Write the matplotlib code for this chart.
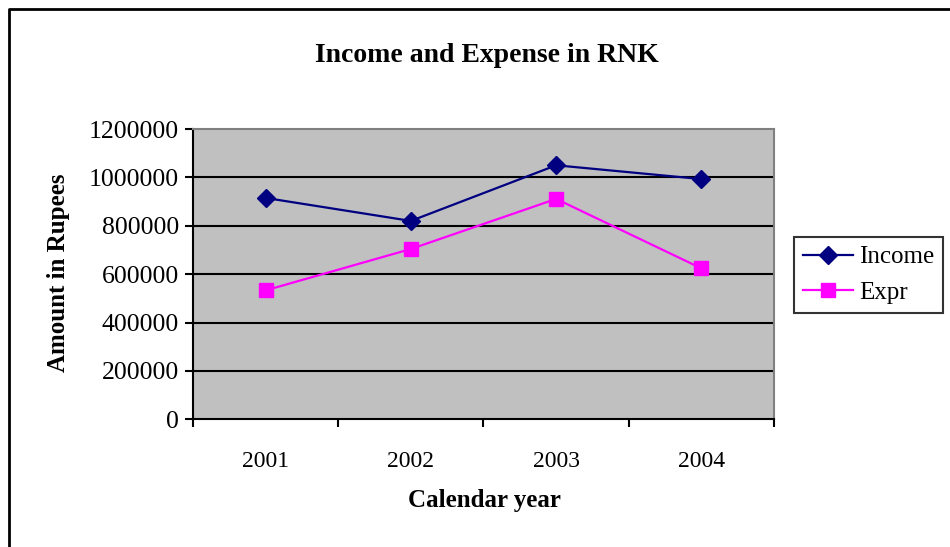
"""
Income and expense line chart (RNK)
"""
import matplotlib
matplotlib.use('Agg')
import matplotlib.pyplot as plt
from matplotlib.lines import Line2D

years = ['2001', '2002', '2003', '2004']
income = [915000, 820000, 1050000, 993000]
expr = [533000, 704000, 911000, 624000]
y_ticks = [0, 200000, 400000, 600000, 800000, 1000000, 1200000]

W, H = 950, 547

plt.rcParams['font.family'] = ['Liberation Serif', 'DejaVu Serif']

fig = plt.figure(figsize=(W / 100, H / 100), dpi=100)
ax = fig.add_axes([193 / W, 1 - 419.3 / H, (774 - 193) / W, (419.3 - 129) / H])

pos = list(range(1, len(years) + 1))
ax.set_facecolor('#C0C0C0')
ax.set_xlim(0.5, len(years) + 0.5)
ax.set_ylim(0, 1200000)

for y in y_ticks[1:-1]:
    ax.axhline(y, color='black', linewidth=1.5, zorder=1)

ax.plot(pos, income, color='#000080', linewidth=1.6, marker='D', markersize=9.5,
        label='Income', zorder=3)
ax.plot(pos, expr, color='#FF00FF', linewidth=1.6, marker='s', markersize=10.5,
        label='Expr', zorder=3)

ax.set_yticks(y_ticks)
ax.set_yticklabels([str(v) for v in y_ticks], fontsize=18.5)
ax.set_xticks(pos)
ax.set_xticklabels(years, fontsize=17)
ax.set_xticks([p - 0.5 for p in pos] + [len(years) + 0.5], minor=True)
ax.tick_params(axis='x', which='major', length=0, pad=23)
ax.tick_params(axis='x', which='minor', length=6, width=1.5, direction='out')
ax.tick_params(axis='y', length=6, width=1.5, direction='out', pad=4)

for side in ['left', 'bottom']:
    ax.spines[side].set_color('black')
    ax.spines[side].set_linewidth(1.5)
for side in ['top', 'right']:
    ax.spines[side].set_color('#808080')
    ax.spines[side].set_linewidth(1.5)

fig.text(487 / W, 1 - 55 / H, 'Income and Expense in RNK', fontsize=20,
         fontweight='bold', ha='center', va='center')
fig.text(58 / W, 1 - 273 / H, 'Amount in Rupees', fontsize=18,
         fontweight='bold', ha='center', va='center', rotation=90)
fig.text(484 / W, 1 - 501 / H, 'Calendar year', fontsize=18,
         fontweight='bold', ha='center', va='center')

# outer chart border (top and left visible only)
fig.add_artist(Line2D([8.5 / W, 8.5 / W, 1.0], [0.0, 1 - 9 / H, 1 - 9 / H],
                      transform=fig.transFigure, color='black', linewidth=2))

leg = fig.legend(loc='upper left', bbox_to_anchor=(794 / W, 1 - 237 / H),
                 fontsize=18, frameon=True, fancybox=False, edgecolor='black',
                 handlelength=2.0, handletextpad=0.25, borderpad=0.35,
                 labelspacing=0.52, borderaxespad=0)
leg.get_frame().set_linewidth(1.5)

fig.savefig('out.png', dpi=100)
